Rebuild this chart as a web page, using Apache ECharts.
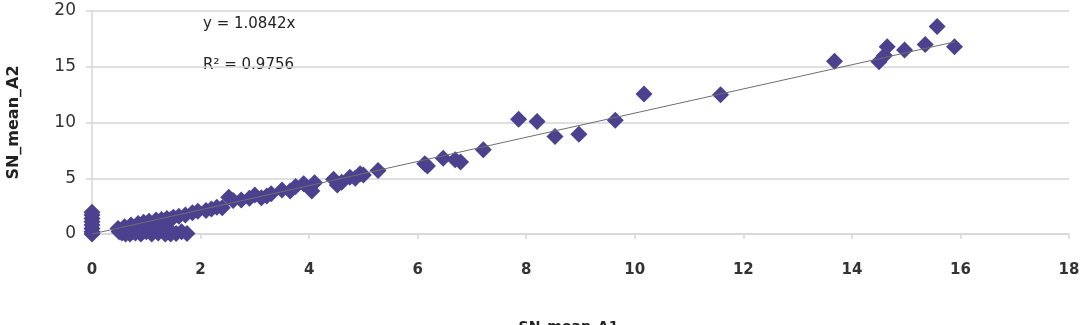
<!DOCTYPE html>
<html>
<head>
<meta charset="utf-8">
<script src="https://cdn.jsdelivr.net/npm/echarts@6/dist/echarts.min.js"></script>
<style>
  html, body { margin: 0; padding: 0; background: #fff; }
  #main { width: 1090px; height: 325px; }
</style>
</head>
<body>
<div id="main"></div>
<script>
// scatter values: [SN_mean_A1, SN_mean_A2]
var pointsAtZero = [[0, 0], [0, 0.2], [0, 0.5], [0, 0.8], [0, 1.1], [0, 1.4], [0, 1.7], [0, 1.95]];
var pointsLow = [
    [0.48, 0.5], [0.55, 0.1], [0.6, 0.65], [0.65, 0.3], [0.7, 0.0], [0.72, 0.8], [0.78, 0.45],
    [0.8, 0.1], [0.85, 0.95], [0.88, 0.4], [0.9, 0.0], [0.95, 1.05], [0.98, 0.6], [1.0, 0.2],
    [1.05, 1.15], [1.08, 0.8], [1.1, 0.0], [1.12, 0.45], [1.18, 1.25], [1.2, 0.9], [1.22, 0.1],
    [1.28, 1.3], [1.3, 0.6], [1.35, 0.0], [1.38, 1.4], [1.42, 0.25], [1.5, 1.5], [1.55, 0.05],
    [1.6, 1.6], [1.65, 0.2], [1.72, 1.7], [1.75, 0.05], [0.62, 0.0], [0.95, 0.3], [1.25, 0.35],
    [1.45, 0.0], [1.05, 0.5], [0.75, 0.2], [0.5, 0.2], [0.58, 0.4], [0.68, 0.55], [0.82, 0.7],
    [0.92, 0.75], [1.0, 0.9], [1.15, 0.65], [1.25, 0.8], [1.35, 1.1], [1.4, 0.5], [1.45, 1.3]
];
var pointsMid = [
    [1.85, 1.9], [1.95, 2.05], [2.1, 2.1], [2.2, 2.25], [2.3, 2.4], [2.4, 2.35],
    [2.52, 3.3], [2.6, 3.0], [2.75, 3.05], [2.9, 3.2], [3.0, 3.5], [3.12, 3.25], [3.22, 3.4],
    [3.3, 3.6], [3.5, 3.95], [3.65, 3.85], [3.75, 4.25], [3.9, 4.5], [4.05, 3.85], [4.1, 4.6],
    [4.45, 4.9], [4.52, 4.4], [4.6, 4.65], [4.75, 5.1], [4.85, 5.0], [4.94, 5.4], [5.0, 5.3],
    [5.27, 5.7]
];
var pointsHigh = [
    [6.13, 6.3], [6.18, 6.1], [6.47, 6.8], [6.69, 6.65], [6.79, 6.45], [7.21, 7.55],
    [7.86, 10.3], [8.2, 10.1], [8.53, 8.75], [8.97, 8.95], [9.64, 10.2], [10.17, 12.55],
    [11.58, 12.5], [13.68, 15.5], [14.5, 15.45], [14.6, 16.0], [14.65, 16.8], [14.97, 16.5],
    [15.35, 17.0], [15.57, 18.6], [15.89, 16.8]
];
var trendSlope = 1.0842;
var trendR2 = 0.9756;
var trendXRange = [0, 15.9];
var xTicks = [0, 2, 4, 6, 8, 10, 12, 14, 16, 18];
var yTicks = [0, 5, 10, 15, 20];

var allPoints = pointsAtZero.concat(pointsLow, pointsMid, pointsHigh);
var trendLine = trendXRange.map(function (x) { return [x, x * trendSlope]; });

var chart = echarts.init(document.getElementById('main'));
var font = '"DejaVu Sans", sans-serif';

var option = {
    animation: false,
    grid: { left: 92, right: 21, top: 11, bottom: 91, outerBoundsMode: 'none', containLabel: false },
    xAxis: {
        type: 'value',
        min: xTicks[0],
        max: xTicks[xTicks.length - 1],
        interval: 2,
        name: 'SN_mean_A1',
        nameLocation: 'middle',
        nameGap: 86,
        nameTextStyle: { fontFamily: font, fontSize: 14, fontWeight: 'bold', color: '#222', padding: [0, 24, 0, 0] },
        axisLine: { lineStyle: { color: '#d6d6d6', width: 1.5 } },
        axisTick: { show: true, length: 5, lineStyle: { color: '#d6d6d6', width: 1.5 } },
        axisLabel: { fontFamily: font, fontSize: 15, fontWeight: 'bold', color: '#333', margin: 29 },
        splitLine: { show: false }
    },
    yAxis: {
        type: 'value',
        min: yTicks[0],
        max: yTicks[yTicks.length - 1],
        interval: 5,
        name: 'SN_mean_A2',
        nameLocation: 'middle',
        nameGap: 70,
        nameRotate: 90,
        nameTextStyle: { fontFamily: font, fontSize: 16, fontWeight: 'bold', color: '#222' },
        axisLine: { show: true, lineStyle: { color: '#d6d6d6', width: 1.5 } },
        axisTick: { show: true, length: 6, lineStyle: { color: '#d6d6d6', width: 1.5 } },
        axisLabel: { fontFamily: font, fontSize: 17, color: '#333', margin: 16 },
        splitLine: { lineStyle: { color: '#d6d6d6', width: 1.5 } }
    },
    graphic: [
        {
            type: 'text', left: 203, top: 17,
            style: { text: 'y = 1.0842x', font: '15px ' + font, fill: '#222' }
        },
        {
            type: 'text', left: 203, top: 58,
            style: { text: 'R² = ' + trendR2.toFixed(4), font: '15px ' + font, fill: '#222' }
        }
    ],
    series: [
        {
            type: 'scatter',
            data: allPoints,
            symbol: 'diamond',
            symbolSize: 17,
            itemStyle: { color: '#4b418f', opacity: 1 },
            z: 2
        },
        {
            type: 'line',
            data: trendLine,
            showSymbol: false,
            lineStyle: { color: '#6e6e6e', width: 1 },
            z: 3
        }
    ]
};

option && chart.setOption(option);
</script>
</body>
</html>
